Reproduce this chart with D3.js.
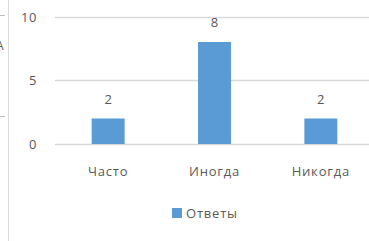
<!DOCTYPE html>
<html>
<head>
<meta charset="utf-8">
<script src="https://cdn.jsdelivr.net/npm/d3@7"></script>
<style>
  body { margin: 0; background: #fff; }
  svg text { font-family: "Open Sans", "Liberation Sans", sans-serif; fill: #595959; }
</style>
</head>
<body>
<svg width="369" height="241"></svg>
<script>
const categories = ["Часто", "Иногда", "Никогда"];
const values = [2, 8, 2];
const yTicks = [0, 5, 10];
const seriesName = "Ответы";

const svg = d3.select("svg");

// cut-off piece of the neighbouring element on the left
svg.append("line")
    .attr("x1", 8.5).attr("x2", 8.5)
    .attr("y1", 0).attr("y2", 241)
    .attr("stroke", "#d9d9d9");
svg.append("line")
    .attr("x1", 0).attr("x2", 5)
    .attr("y1", 15.5).attr("y2", 15.5)
    .attr("stroke", "#bfbfbf");
svg.append("line")
    .attr("x1", 0).attr("x2", 5)
    .attr("y1", 116.5).attr("y2", 116.5)
    .attr("stroke", "#bfbfbf");
svg.append("text")
    .attr("x", -4).attr("y", 50)
    .style("font-size", "12px")
    .text("А");

let x = d3.scaleBand().domain(categories).range([55, 374]).paddingInner(0.69).paddingOuter(0.345);
let y = d3.scaleLinear().domain([0, 10]).range([144, 16.5]);

// gridlines
svg.selectAll(".grid")
    .data(yTicks)
    .enter()
    .append("line")
    .attr("x1", 55).attr("x2", 369)
    .attr("y1", d => Math.round(y(d)) + 0.5)
    .attr("y2", d => Math.round(y(d)) + 0.5)
    .attr("stroke", "#d9d9d9")
    .attr("stroke-width", 1.3);

svg.selectAll(".ytick")
    .data(yTicks)
    .enter()
    .append("text")
    .attr("x", 37)
    .attr("y", d => y(d) + 5)
    .attr("text-anchor", "end")
    .style("font-size", "13px")
    .style("letter-spacing", "0.6px")
    .text(d => d);

svg.selectAll("rect.bar")
    .data(values)
    .enter()
    .append("rect")
    .attr("class", "bar")
    .attr("x", (d, i) => x(categories[i]))
    .attr("y", d => y(d))
    .attr("width", x.bandwidth())
    .attr("height", d => y(0) - y(d))
    .style("fill", "#5b9bd5");

svg.selectAll(".lbl")
    .data(values)
    .enter()
    .append("text")
    .attr("x", (d, i) => x(categories[i]) + x.bandwidth() / 2)
    .attr("y", d => y(d) - 15)
    .attr("text-anchor", "middle")
    .style("font-size", "13px")
    .text(d => d);

svg.selectAll(".cat")
    .data(categories)
    .enter()
    .append("text")
    .attr("x", d => x(d) + x.bandwidth() / 2)
    .attr("y", 176)
    .attr("text-anchor", "middle")
    .style("font-size", "13px")
    .style("letter-spacing", "0.8px")
    .text(d => d);

// legend
svg.append("rect")
    .attr("x", 172).attr("y", 208)
    .attr("width", 10).attr("height", 10)
    .style("fill", "#5b9bd5");
svg.append("text")
    .attr("x", 186).attr("y", 218)
    .style("font-size", "13px")
    .style("letter-spacing", "0.8px")
    .text(seriesName);
</script>
</body>
</html>
